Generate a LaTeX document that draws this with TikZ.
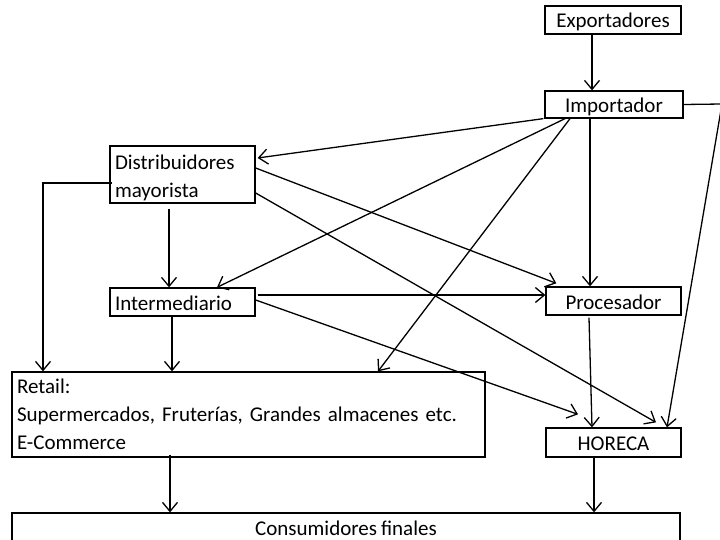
\documentclass[tikz,border=0pt]{standalone}
\usepackage{fontspec}
\setmainfont{Carlito}[WordSpace=0.85]
\usetikzlibrary{arrows.meta}
\begin{document}
\begin{tikzpicture}[x=1pt,y=-1pt,
  box/.style={draw,line width=1.3pt,inner sep=0pt,minimum height=#1},
  box/.default=28pt,
  one/.style={text height=16pt,text depth=0pt},
  arr/.style={line width=1.3pt,-{Straight Barb[length=9pt,width=15pt,line width=1.3pt]}},
  every node/.style={font=\fontsize{21}{28}\selectfont}]
\useasboundingbox (0,0) rectangle (720,540);
\fill[white] (0,0) rectangle (720,540);
% nodes
\node[box,one,minimum width=136pt] (Exp) at (613,20) {Exportadores};
\node[box,one,minimum width=138pt,minimum height=27pt] (Imp) at (614,104.5) {Importador};
\node[box=57pt,text width=135pt,inner xsep=5pt,align=left] (Dist) at (182.5,174.5) {\rule{0pt}{22pt}Distribuidores\\mayorista};
\node[box,one,text width=135pt,inner xsep=5pt,align=left] (Inter) at (182.5,302) {Intermediario};
\node[box,one,minimum width=135pt] (Proc) at (613.5,301) {Procesador};
\node[box=29pt,one,minimum width=135pt] (Hor) at (613.5,442.5) {HORECA};
\node[box=85pt,text width=463pt,inner xsep=5pt,align=left] (Ret) at (248.5,414.5) {Retail:\\Supermercados, Fruterías, Grandes almacenes etc.\\E-Commerce};
\node[box=34pt,minimum width=668pt] (Cons) at (346,530) {\raisebox{3pt}{Consumidores finales}};
\coordinate (ImpR) at (722,104);
% connectors
\draw[arr] ([xshift=-21pt]Exp.south) -- ([xshift=-22pt]Imp.north);
\draw[arr] (Imp.east) -- (ImpR) -- ([xshift=53.5pt]Hor.north);
\draw[arr] ([xshift=-1pt]Imp.south west) -- ([xshift=2pt,yshift=16.5pt]Dist.east);
\draw[arr] ([xshift=-49pt]Imp.south) -- ([xshift=34.5pt]Inter.north);
\draw[arr] ([xshift=-44pt]Imp.south) -- ([xshift=129.5pt]Ret.north);
\draw[arr] ([xshift=-24pt]Imp.south) -- ([xshift=-23.5pt]Proc.north);
\draw[arr] ([yshift=6.5pt]Dist.east) -- ([xshift=11pt,yshift=3pt]Proc.north west);
\draw[arr] ([yshift=-18.5pt]Dist.east) -- ([xshift=42.5pt,yshift=5pt]Hor.north);
\draw[arr] ([yshift=-8.5pt,xshift=3pt]Dist.west) -| ([xshift=-205.5pt]Ret.north);
\draw[arr] ([xshift=-13.5pt,yshift=-5pt]Dist.south) -- ([xshift=-13.5pt]Inter.north);
\draw[arr] ([xshift=2pt,yshift=7pt]Inter.east) -- ([yshift=6pt]Proc.west);
\draw[arr] ([yshift=2pt]Inter.east) -- ([xshift=-35.5pt,yshift=13pt]Hor.north);
\draw[arr] ([xshift=-10.5pt]Inter.south) -- ([xshift=-76.5pt]Ret.north);
\draw[arr] ([xshift=-24.5pt,yshift=-2pt]Proc.south) -- ([xshift=-21.5pt]Hor.north);
\draw[arr] ([xshift=-78.5pt,yshift=3pt]Ret.south) -- ([xshift=-176pt]Cons.north);
\draw[arr] ([xshift=-19.5pt]Hor.south) -- ([xshift=248pt]Cons.north);
\end{tikzpicture}
\end{document}
